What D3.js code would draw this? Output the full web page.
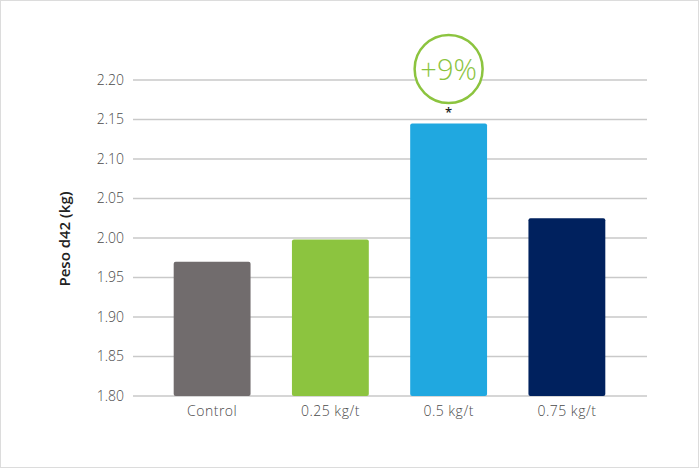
<!DOCTYPE html>
<html>
<head>
<meta charset="utf-8">
<script src="https://cdn.jsdelivr.net/npm/d3@7"></script>
<style>
  body { margin: 0; background: #fff; }
  text { font-family: "Open Sans", sans-serif; }
</style>
</head>
<body>
<div id="root"></div>
<script>
const categories = ['Control', '0.25 kg/t', '0.5 kg/t', '0.75 kg/t']
const values = [1.970, 1.998, 2.145, 2.025]
const colors = ['#716c6d', '#8cc43f', '#20a8e0', '#00215e']
const yTicks = [1.80, 1.85, 1.90, 1.95, 2.00, 2.05, 2.10, 2.15, 2.20]
const highlight = { category: '0.5 kg/t', label: '+9%', mark: '*' }

const width = 700,
      height = 470

const svg = d3.select('#root')
  .append('svg')
  .attr('width', width)
  .attr('height', height)

// frame
svg.append('rect')
  .attr('x', 0.5).attr('y', 0.5)
  .attr('width', width - 2).attr('height', height - 3)
  .attr('fill', 'none')
  .attr('stroke', '#dcdcdc')

const x = d3.scaleBand()
  .domain(categories)
  .range([153, 626])
  .paddingInner(0.35)
  .paddingOuter(0.175)

const y = d3.scaleLinear()
  .domain([1.80, 2.20])
  .range([396, 80])

// grid
svg.append('g')
  .selectAll('line')
  .data(yTicks)
  .enter().append('line')
  .attr('x1', 133).attr('x2', 647)
  .attr('y1', d => y(d)).attr('y2', d => y(d))
  .attr('stroke', '#c9c9c9')
  .attr('stroke-width', 1.5)

// y axis labels
const yAxis = d3.axisLeft(y)
  .tickValues(yTicks)
  .tickFormat(d3.format('.2f'))
  .tickSize(0)
  .tickPadding(0)

svg.append('g')
  .attr('transform', 'translate(124,0)')
  .call(yAxis)
  .call(g => g.select('.domain').remove())
  .selectAll('text')
  .attr('font-family', '"Open Sans", sans-serif')
  .attr('font-size', 14)
  .attr('font-weight', 300)
  .attr('fill', '#4a4a4a')

// bars
svg.append('g')
  .selectAll('rect')
  .data(categories)
  .enter().append('rect')
  .attr('x', d => x(d))
  .attr('width', x.bandwidth())
  .attr('y', (d, i) => y(values[i]))
  .attr('height', (d, i) => y(1.80) - y(values[i]))
  .attr('rx', 2)
  .attr('fill', (d, i) => colors[i])

// x labels
const xAxis = d3.axisBottom(x).tickSize(0).tickPadding(0)
svg.append('g')
  .attr('transform', 'translate(0,406)')
  .call(xAxis)
  .call(g => g.select('.domain').remove())
  .selectAll('text')
  .attr('font-family', '"Open Sans", sans-serif')
  .attr('font-size', 14)
  .attr('font-weight', 300)
  .attr('letter-spacing', 0.5)
  .attr('fill', '#4a4a4a')

// y title
svg.append('text')
  .attr('transform', 'translate(70,239) rotate(-90)')
  .attr('text-anchor', 'middle')
  .attr('font-size', 15)
  .attr('font-weight', 600)
  .attr('fill', '#222')
  .text('Peso d42 (kg)')

// significance
const hi = categories.indexOf(highlight.category)
const cx = x(highlight.category) + x.bandwidth() / 2
svg.append('text')
  .attr('x', cx)
  .attr('y', y(values[hi]) - 6)
  .attr('text-anchor', 'middle')
  .attr('font-size', 13)
  .attr('font-weight', 600)
  .attr('fill', '#222')
  .text(highlight.mark)

svg.append('circle')
  .attr('cx', cx)
  .attr('cy', 69)
  .attr('r', 34)
  .attr('fill', '#fff')
  .attr('stroke', '#8cc43f')
  .attr('stroke-width', 2.5)

svg.append('text')
  .attr('x', cx)
  .attr('y', 80)
  .attr('text-anchor', 'middle')
  .attr('font-size', 29)
  .attr('font-weight', 300)
  .attr('fill', '#8cc43f')
  .text(highlight.label)
</script>
</body>
</html>
